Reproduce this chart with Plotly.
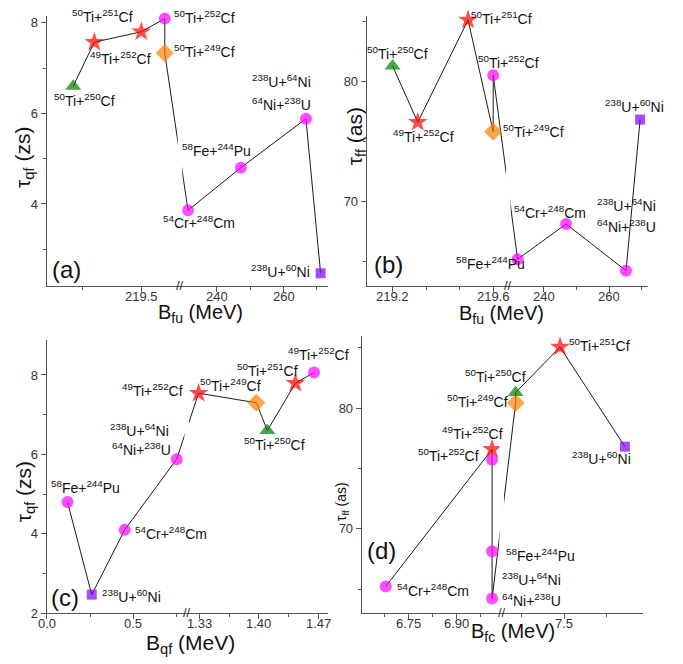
import re
import plotly.graph_objects as go

PAGE_W, PAGE_H = 683, 664
OFF = 8                      # default body margin of the html page
W, H = PAGE_W - OFF, PAGE_H - OFF

# ---------------- data ----------------
# (a) B_fu (MeV) vs tau_qf (zs)
reac_a = ["50Ti+250Cf", "49Ti+252Cf", "50Ti+251Cf", "50Ti+252Cf", "50Ti+249Cf",
          "54Cr+248Cm", "58Fe+244Pu", "64Ni+238U", "238U+60Ni"]
bfu_a = [219.21, 219.30, 219.50, 219.60, 219.60, 231.4, 247.2, 266.7, 271.1]
tauqf_a = [6.60, 7.57, 7.80, 8.09, 7.33, 3.86, 4.80, 5.88, 2.47]

# (b) B_fu (MeV) vs tau_ff (as)
reac_b = ["50Ti+250Cf", "49Ti+252Cf", "50Ti+251Cf", "50Ti+249Cf", "50Ti+252Cf",
          "54Cr+248Cm", "58Fe+244Pu", "64Ni+238U", "238U+60Ni"]
bfu_b = [219.20, 219.30, 219.50, 219.60, 219.60, 232.1, 246.9, 265.2, 269.5]
tauff_b = [81.32, 76.63, 85.16, 75.84, 80.55, 65.20, 68.14, 64.24, 76.85]

# (c) B_qf (MeV) vs tau_qf (zs)
reac_c = ["58Fe+244Pu", "238U+60Ni", "54Cr+248Cm", "64Ni+238U", "49Ti+252Cf",
          "50Ti+249Cf", "50Ti+250Cf", "50Ti+251Cf", "50Ti+252Cf"]
bqf_c = [0.12, 0.26, 0.45, 0.75, 1.329, 1.397, 1.410, 1.443, 1.465]
tauqf_c = [4.80, 2.47, 4.10, 5.88, 7.54, 7.30, 6.60, 7.79, 8.06]

# (d) B_fc (MeV) vs tau_ff (as)
reac_d = ["54Cr+248Cm", "49Ti+252Cf", "50Ti+252Cf", "58Fe+244Pu", "64Ni+238U",
          "50Ti+249Cf", "50Ti+250Cf", "50Ti+251Cf", "238U+60Ni"]
bfc_d = [6.679, 7.01, 7.01, 7.01, 7.01, 7.214, 7.214, 7.475, 7.857]
tauff_d = [65.23, 76.60, 75.72, 68.14, 64.22, 80.44, 81.30, 85.07, 76.81]

# tick values / labels
xt_a = [219.5, 240, 260]; xl_a = ["219.5", "240", "260"]; xm_a = [219.25, 250, 270]
xt_b = [219.2, 219.6, 240, 260]; xl_b = ["219.2", "219.6", "240", "260"]
xm_b = [219.333, 219.467, 250, 270]
xt_c = [0.0, 0.5, 1.33, 1.40, 1.47]; xl_c = ["0.0", "0.5", "1.33", "1.40", "1.47"]
xm_c = [0.25, 0.75, 1.365, 1.435]
xt_d = [6.75, 6.90, 7.5]; xl_d = ["6.75", "6.90", "7.5"]
xm_d = [6.675, 6.825, 6.975, 7.25, 7.75]

# ---------------- styles / layout ----------------
FONT = "Arial, Liberation Sans, sans-serif"
STYLE = {
    "50Ti+250Cf": ("triangle-up", "#007F00", 14),
    "49Ti+252Cf": ("star", "#FF0000", 15),
    "50Ti+251Cf": ("star", "#FF0000", 15),
    "50Ti+252Cf": ("circle", "#FF00FF", 12),
    "50Ti+249Cf": ("diamond", "#FF8000", 14),
    "54Cr+248Cm": ("circle", "#FF00FF", 12),
    "58Fe+244Pu": ("circle", "#FF00FF", 12),
    "64Ni+238U": ("circle", "#FF00FF", 12),
    "238U+60Ni": ("square", "#7F00FF", 10),
}

def fmt(r):
    m = re.match(r"(\d+)([A-Za-z]+)\+(\d+)([A-Za-z]+)", r)
    return f"<sup>{m[1]}</sup>{m[2]}+<sup>{m[3]}</sup>{m[4]}"

def px2paper(px, py):
    return (px - OFF) / W, 1 - (py - OFF) / H

panels = [
    dict(reac=reac_a, x=bfu_a, y=tauqf_a, xt=xt_a, xl=xl_a, xm=xm_a,
         brk=((219.097, 219.665), (229.0, 273.4), 0.4734),
         xpx=(46.7, 328.3), ypx=(15, 289.3), yr=(2.18, 8.15), yt=[4, 6, 8], ym=[3, 5, 7],
         letter="(a)", letter_at=(66.7, 271.7),
         xtitle="B<sub>fu</sub> (MeV)", xtitle_at=(200, 317), xts=20,
         ytitle="τ<sub>qf</sub> (zs)", ytitle_at=(24, 159), yts=21,
         labels=[("50Ti+251Cf", "50Ti+251Cf", -39, -14, "center"),
                 ("50Ti+252Cf", "50Ti+252Cf", 7, 0, "left"),
                 ("50Ti+249Cf", "50Ti+249Cf", 7, 0, "left"),
                 ("49Ti+252Cf", "49Ti+252Cf", 26, 18.3, "center"),
                 ("50Ti+250Cf", "50Ti+250Cf", 11.3, 15.7, "center"),
                 ("64Ni+238U", "238U+64Ni", -24, -36, "center"),
                 ("64Ni+238U", "64Ni+238U", -24, -12.7, "center"),
                 ("58Fe+244Pu", "58Fe+244Pu", -24.7, -15.7, "center"),
                 ("54Cr+248Cm", "54Cr+248Cm", 11, 14, "center"),
                 ("238U+60Ni", "238U+60Ni", -9, 0, "right")]),
    dict(reac=reac_b, x=bfu_b, y=tauff_b, xt=xt_b, xl=xl_b, xm=xm_b,
         brk=((219.097, 219.66), (229.25, 272.0), 0.5028),
         xpx=(366.7, 648.3), ypx=(15, 289.3), yr=(62.93, 85.5), yt=[70, 80], ym=[65, 75, 85],
         letter="(b)", letter_at=(388.3, 266.7),
         xtitle="B<sub>fu</sub> (MeV)", xtitle_at=(501.7, 318), xts=20,
         ytitle="τ<sub>ff</sub> (as)", ytitle_at=(356, 137), yts=21,
         labels=[("50Ti+251Cf", "50Ti+251Cf", 1, 0, "left"),
                 ("50Ti+250Cf", "50Ti+250Cf", 5, -10.7, "center"),
                 ("50Ti+252Cf", "50Ti+252Cf", 15.6, -11.7, "center"),
                 ("49Ti+252Cf", "49Ti+252Cf", 5.5, 15.6, "center"),
                 ("50Ti+249Cf", "50Ti+249Cf", 7.7, 1, "left"),
                 ("238U+60Ni", "238U+60Ni", -5.8, -11.7, "center"),
                 ("64Ni+238U", "238U+64Ni", 0, -63.3, "center"),
                 ("64Ni+238U", "64Ni+238U", 0, -42.7, "center"),
                 ("54Cr+248Cm", "54Cr+248Cm", 32.3, -45, "center"),
                 ("58Fe+244Pu", "58Fe+244Pu", -76, 40.7, "center")]),
    dict(reac=reac_c, x=bqf_c, y=tauqf_c, xt=xt_c, xl=xl_c, xm=xm_c,
         brk=((0.0, 0.808), (1.315, 1.4818), 0.4972),
         xpx=(46.7, 328.3), ypx=(344, 620.7), yr=(2.0, 8.87), yt=[2, 4, 6, 8], ym=[3, 5, 7],
         letter="(c)", letter_at=(65, 605),
         xtitle="B<sub>qf</sub> (MeV)", xtitle_at=(190.8, 652), xts=21,
         ytitle="τ<sub>qf</sub> (zs)", ytitle_at=(25, 498), yts=21,
         labels=[("49Ti+252Cf", "49Ti+252Cf", -13.3, -1, "right"),
                 ("50Ti+249Cf", "50Ti+249Cf", -25.5, -16, "center"),
                 ("50Ti+251Cf", "50Ti+251Cf", -28.3, -11, "center"),
                 ("50Ti+252Cf", "49Ti+252Cf", 4, -16.7, "center"),
                 ("50Ti+250Cf", "50Ti+250Cf", 7.3, 15.7, "center"),
                 ("64Ni+238U", "238U+64Ni", -37.5, -26.7, "center"),
                 ("64Ni+238U", "64Ni+238U", -35, -8.3, "center"),
                 ("58Fe+244Pu", "58Fe+244Pu", 18, -13.3, "center"),
                 ("54Cr+248Cm", "54Cr+248Cm", 8.3, 5, "left"),
                 ("238U+60Ni", "238U+60Ni", 8.3, 3.3, "left")]),
    dict(reac=reac_d, x=bfc_d, y=tauff_d, xt=xt_d, xl=xl_d, xm=xm_d,
         brk=((6.604, 7.04), (7.132, 7.965), 0.4972),
         xpx=(361.7, 643.3), ypx=(340, 620.7), yr=(63.0, 85.95), yt=[70, 80], ym=[65, 75, 85],
         letter="(d)", letter_at=(381, 556.7),
         xtitle="B<sub>fc</sub> (MeV)", xtitle_at=(513, 640), xts=20,
         ytitle="τ<sub>ff</sub> (as)", ytitle_at=(342, 508), yts=14,
         labels=[("50Ti+251Cf", "50Ti+251Cf", 6.7, 0, "left"),
                 ("50Ti+250Cf", "50Ti+250Cf", -20, -15, "center"),
                 ("50Ti+249Cf", "50Ti+249Cf", -38, 0, "center"),
                 ("49Ti+252Cf", "49Ti+252Cf", -20, -14.3, "center"),
                 ("50Ti+252Cf", "50Ti+252Cf", -11, -3.3, "right"),
                 ("58Fe+244Pu", "58Fe+244Pu", 11.7, 5.7, "left"),
                 ("64Ni+238U", "238U+64Ni", 8.3, -17.3, "left"),
                 ("64Ni+238U", "64Ni+238U", 8.3, 3.3, "left"),
                 ("54Cr+248Cm", "54Cr+248Cm", 9, 6, "left"),
                 ("238U+60Ni", "238U+60Ni", -23.8, 13.3, "center")]),
]

def brkmap(v, spec):
    (L0, L1), (R0, R1), f = spec
    if v <= (L1 + R0) / 2:
        return (v - L0) / (L1 - L0) * f
    return f + (v - R0) / (R1 - R0) * (1 - f)

fig = go.Figure()
annotations = []
shapes = []
layout = dict(width=W, height=H, margin=dict(l=0, r=0, t=0, b=0),
              paper_bgcolor="white", plot_bgcolor="white", showlegend=False,
              font=dict(family=FONT, color="#222"))

for i, p in enumerate(panels):
    n = "" if i == 0 else str(i + 1)
    xa, ya = "x" + n, "y" + n
    spec = p["brk"]
    xd = [brkmap(v, spec) for v in p["x"]]
    sym = [STYLE[r][0] for r in p["reac"]]
    col = [STYLE[r][1] for r in p["reac"]]
    siz = [STYLE[r][2] for r in p["reac"]]
    fig.add_trace(go.Scatter(x=xd, y=p["y"], mode="lines", xaxis=xa, yaxis=ya,
                             line=dict(color="#1a1a1a", width=1), cliponaxis=False,
                             hoverinfo="skip"))
    fig.add_trace(go.Scatter(x=xd, y=p["y"], mode="markers", xaxis=xa, yaxis=ya,
                             marker=dict(symbol=sym, color=col, size=siz, line=dict(width=0)),
                             cliponaxis=False, text=p["reac"], hoverinfo="text"))
    x0, _ = px2paper(p["xpx"][0], 0)
    x1, _ = px2paper(p["xpx"][1], 0)
    _, y0 = px2paper(0, p["ypx"][1])
    _, y1 = px2paper(0, p["ypx"][0])
    axstyle = dict(showline=True, linecolor="#555", linewidth=1, ticks="outside",
                   ticklen=5, tickwidth=1, tickcolor="#555", showgrid=False,
                   zeroline=False, tickfont=dict(family=FONT, size=13, color="#333"))
    xtv = [brkmap(v, spec) for v in p["xt"]]
    layout["xaxis" + n] = dict(domain=[x0, x1], anchor=ya, range=[0, 1],
                               tickmode="array", tickvals=xtv, ticktext=p["xl"],
                               showticklabels=False,
                               minor=dict(tickmode="array", tickvals=[brkmap(v, spec) for v in p["xm"]],
                                          ticks="outside", ticklen=3, tickcolor="#555"),
                               **axstyle)
    layout["yaxis" + n] = dict(domain=[y0, y1], anchor=xa, range=list(p["yr"]),
                               tickmode="array", tickvals=p["yt"],
                               ticktext=[str(v) for v in p["yt"]],
                               minor=dict(tickmode="array", tickvals=p["ym"],
                                          ticks="outside", ticklen=3, tickcolor="#555"),
                               **axstyle)
    # x tick labels (placed close to the axis as in the original)
    for tv, tl in zip(xtv, p["xl"]):
        annotations.append(dict(x=tv, y=0, xref=xa, yref=ya + " domain", text=tl,
                                showarrow=False, xanchor="center", yanchor="middle",
                                yshift=-10.5, font=dict(family=FONT, size=13, color="#333")))
    f = spec[2]
    # white gap for broken axis
    shapes.append(dict(type="rect", xref=xa, yref=ya + " domain", x0=f - 0.008, x1=f + 0.008,
                       y0=0.015, y1=1.0, fillcolor="white", line=dict(width=0), layer="above"))
    annotations.append(dict(x=f, y=0, xref=xa, yref=ya + " domain", text="//",
                            showarrow=False, font=dict(family=FONT, size=13, color="#333"),
                            xanchor="center", yanchor="middle", yshift=1))
    # point labels
    for (anchor, txt, dx, dy, xanc) in p["labels"]:
        k = p["reac"].index(anchor)
        annotations.append(dict(x=xd[k], y=p["y"][k], xref=xa, yref=ya, text=fmt(txt),
                                showarrow=False, xanchor=xanc, yanchor="middle",
                                xshift=dx, yshift=-dy + 2,
                                font=dict(family=FONT, size=14, color="#111")))
    lx, ly = px2paper(*p["letter_at"])
    annotations.append(dict(x=lx, y=ly, xref="paper", yref="paper", text=p["letter"],
                            showarrow=False, xanchor="center", yanchor="middle",
                            font=dict(family=FONT, size=24, color="#111")))
    tx, ty = px2paper(*p["xtitle_at"])
    annotations.append(dict(x=tx, y=ty, xref="paper", yref="paper", text=p["xtitle"],
                            showarrow=False, xanchor="center", yanchor="middle",
                            font=dict(family=FONT, size=p["xts"], color="#111")))
    vx, vy = px2paper(*p["ytitle_at"])
    annotations.append(dict(x=vx, y=vy, xref="paper", yref="paper", text=p["ytitle"],
                            showarrow=False, xanchor="center", yanchor="middle", textangle=-90,
                            font=dict(family=FONT, size=p["yts"], color="#111")))

layout["annotations"] = annotations
layout["shapes"] = shapes
fig.update_layout(**layout)
fig.write_html("out.html")
